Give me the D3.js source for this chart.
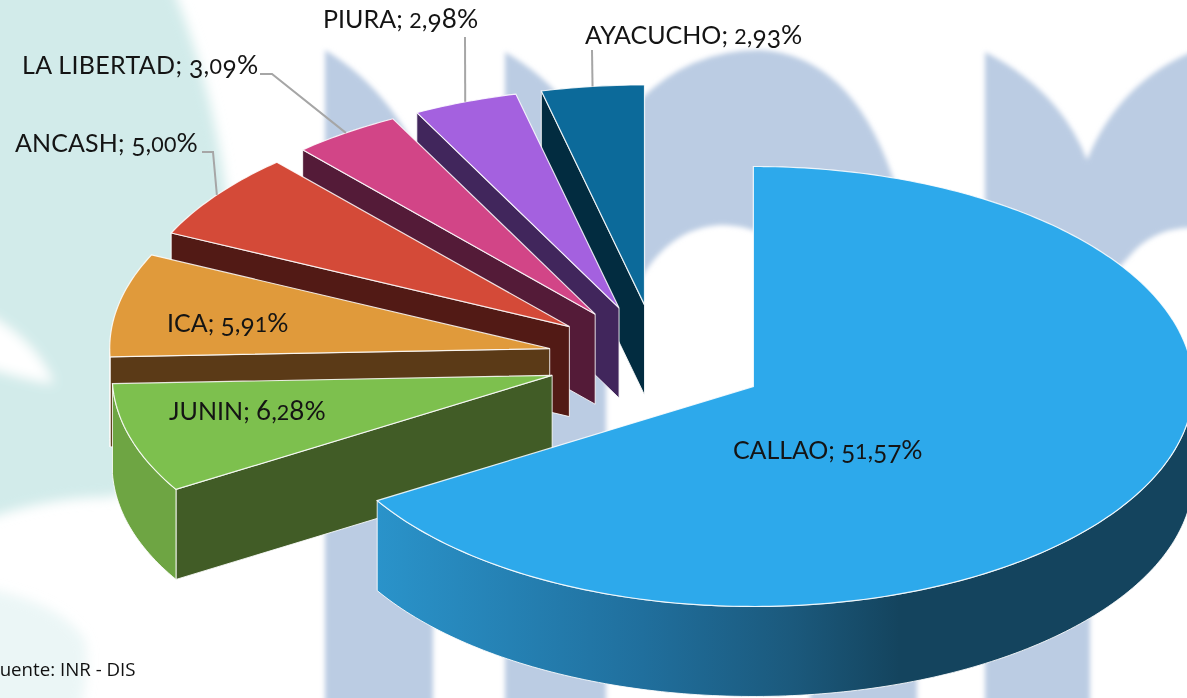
<!DOCTYPE html>
<html><head><meta charset="utf-8">
<script src="https://cdn.jsdelivr.net/npm/d3@7"></script>
<style>
html,body{margin:0;padding:0;background:#fff;overflow:hidden}
svg{display:block}
text{font-family:Lato,"Open Sans",sans-serif;fill:#141414}
</style></head><body>
<svg id="c" width="1187" height="698"></svg>
<script>
const departments = ["CALLAO","JUNIN","ICA","ANCASH","LA LIBERTAD","PIURA","AYACUCHO"];
const shares = [51.57,6.28,5.91,5.00,3.09,2.98,2.93];
const source = "Fuente: INR - DIS";

const topColors  = ["#2DA9EB","#7DC04E","#E09A3B","#D44A38","#D24587","#A461DF","#0C6A9A"];
const faceColors = ["#1B5A7E","#415C26","#5B3A17","#521A15","#541B38","#41265C","#022C40"];
const wallColors = ["url(#wall)","#6EA543","#a08c78","#8a3a30","#8a3a60","#6a4590","#0a4a6a"];

const W=1187,H=698, cx=657.5, cy=359.5, rx=440, ry=220, depth=90, explode=0.25;
const labelPlace = {
  "CALLAO":{x:733,y:459,ls:-0.1},
  "JUNIN":{x:169,y:420},
  "ICA":{x:167,y:332},
  "ANCASH":{x:15,y:152,ls:0.12,leader:[[202,152],[213,152]]},
  "LA LIBERTAD":{x:22,y:74,ls:0.33,leader:[[260,74],[272,74]]},
  "PIURA":{x:323,y:28,ls:0.05,leader:[[465,37]]},
  "AYACUCHO":{x:585,y:44,leader:[[592,50]]}
};

const svg=d3.select("#c");
const defs=svg.append("defs");
const blur=(id,s)=>defs.append("filter").attr("id",id).attr("x","-15%").attr("y","-15%").attr("width","130%").attr("height","130%")
  .append("feGaussianBlur").attr("stdDeviation",s);
blur("soft",2.5); blur("softer",6);

// watermark behind the chart
const bgT=svg.append("g").attr("filter","url(#softer)");
bgT.append("path").attr("fill","#D2EBEA").attr("d","M-30,-30 L165,-30 Q222,100 232,250 L200,470 L110,497 Q40,497 -30,525 Z");
bgT.append("path").attr("fill","#D2EBEA").attr("opacity",.45).attr("d","M-30,585 Q60,600 85,640 Q92,670 75,730 L-30,730 Z");
bgT.append("path").attr("fill","#fff").attr("d","M-30,305 Q35,335 54,384 Q25,380 -30,362 Z");
const bg=svg.append("g").attr("filter","url(#soft)");
[
 "M325,50 Q400,95 433,190 L433,708 L325,708 Z",
 "M505,52 Q580,95 606,180 L606,708 L505,708 Z",
 "M640,100 Q690,50 760,50 Q850,55 892,175 L917,260 L917,708 L810,708 L810,300 Q790,225 720,225 Q670,228 640,280 Z",
 "M985,52 Q1060,90 1087,160 Q1120,80 1197,50 L1197,228 Q1160,226 1135,250 L1090,300 L1090,708 L985,708 Z"
].forEach(d=>bg.append("path").attr("fill","#BBCCE3").attr("d",d));

// pie layout
const pie=d3.pie().sort(null).value(d=>d.v);
const arcs=pie(departments.map((n,i)=>({n,v:shares[i],i})));
const pt=(a,f=1)=>[f*rx*Math.sin(a),-f*ry*Math.cos(a)];
const line=d3.line();
const HALF=Math.PI/2, TH=3*Math.PI/2;
const samples=(a0,a1)=>{const n=Math.max(2,Math.ceil((a1-a0)*60));return d3.range(n+1).map(i=>a0+(a1-a0)*i/n);};

// shading of the big slice's rim, in the slice's own coordinates
const g=defs.append("linearGradient").attr("id","wall").attr("gradientUnits","userSpaceOnUse")
  .attr("x1",pt(arcs[0].endAngle)[0]).attr("x2",rx).attr("y1",0).attr("y2",0);
[[0,"#2a93ca"],[0.325,"#206f9d"],[0.51,"#1b597c"],[0.64,"#14445e"],[1,"#14445e"]]
  .forEach(([o,c])=>g.append("stop").attr("offset",o).attr("stop-color",c));

const edge="rgba(255,255,255,.85)";
const layer=svg.append("g");
const tips={};
// painted from the back slice to the front one, CALLAO last
arcs.slice().reverse().forEach(d=>{
  const i=d.data.i, mid=(d.startAngle+d.endAngle)/2;
  const [ox,oy]=pt(mid,explode);
  const tx=cx+ox, ty=cy+oy; tips[d.data.n]=[tx,ty,mid];
  const sl=layer.append("g").attr("transform",`translate(${tx},${ty})`);
  const outer=samples(d.startAngle,d.endAngle).map(a=>pt(a));
  if(i>0){
    const s=pt(d.startAngle);
    sl.append("path").attr("fill",faceColors[i]).attr("stroke",edge).attr("stroke-width",1)
      .attr("d",line([[0,0],s,[s[0],s[1]+depth],[0,depth]])+"Z");
  }
  const a0=Math.max(d.startAngle,HALF), a1=Math.min(d.endAngle,TH);
  if(a1>a0){
    const rim=samples(a0,a1).map(a=>pt(a));
    const low=rim.map(p=>[p[0],p[1]+depth]).reverse();
    sl.append("path").attr("fill",wallColors[i]).attr("stroke",edge).attr("stroke-width",1)
      .attr("d",line(rim.concat(low))+"Z");
  }
  sl.append("path").attr("fill",topColors[i]).attr("stroke",edge).attr("stroke-width",1.2)
    .attr("d",line([[0,0]].concat(outer))+"Z");
});

// leaders and labels; the figures imitate old-style numerals
const fmt=v=>v.toFixed(2).replace(".",",")+"%";
const FS=25;
const labels=svg.append("g");
function figure(t,s){
  let shift=0;
  Array.from(s).forEach(ch=>{
    let size=1, drop=0;
    if("012".includes(ch)) size=.86;
    else if("34579".includes(ch)){ size=.98; drop=.17*FS; }
    else if("68".includes(ch)) size=1.04;
    else if(ch==="%") size=1.06;
    t.append("tspan").attr("font-size",FS*size).attr("dy",drop-shift).text(ch);
    shift=drop;
  });
}
arcs.forEach(d=>{
  const n=d.data.n, p=labelPlace[n], [tx,ty,mid]=tips[n];
  if(p.leader){
    const e=pt(mid);
    labels.append("path").attr("fill","none").attr("stroke","#a6a6a6").attr("stroke-width",2)
      .attr("d",line(p.leader.concat([[tx+e[0],ty+e[1]]])));
  }
  const t=labels.append("text").attr("x",p.x).attr("y",p.y).attr("font-size",FS)
    .style("letter-spacing",(p.ls||0)+"px");
  t.append("tspan").text(`${n}; `);
  figure(t,fmt(d.data.v));
});
svg.append("text").attr("x",-10).attr("y",676).attr("font-size",18.7)
  .style("font-family","'Open Sans',sans-serif").style("fill","#111")
  .text(source);
</script>
</body></html>
